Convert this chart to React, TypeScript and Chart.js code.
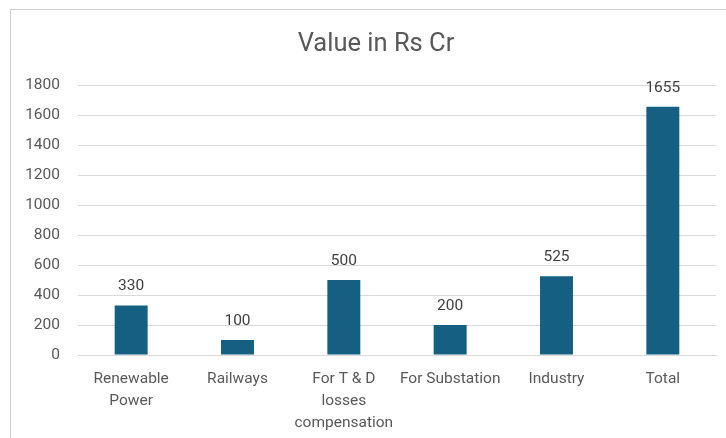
import React, { useEffect, useRef } from "react";
import { Chart, registerables } from "chart.js";

Chart.register(...registerables);

const categories: (string | string[])[] = [
  ["Renewable", "Power"],
  "Railways",
  ["For T & D", "losses", "compensation"],
  "For Substation",
  "Industry",
  "Total",
];
const values: number[] = [330, 100, 500, 200, 525, 1655];
const yTicks: number[] = [0, 200, 400, 600, 800, 1000, 1200, 1400, 1600, 1800];
const chartTitle = "Value in Rs Cr";

const FONT = "Roboto, 'Open Sans', sans-serif";

const dataLabelPlugin = {
  id: "dataLabels",
  afterDatasetsDraw(chart: any) {
    const ctx = chart.ctx;
    const meta = chart.getDatasetMeta(0);
    ctx.save();
    ctx.font = `15.5px ${FONT}`;
    ctx.fillStyle = "#404040";
    ctx.textAlign = "center";
    ctx.textBaseline = "middle";
    meta.data.forEach((bar: any, i: number) => {
      ctx.fillText(String(values[i]), bar.x, bar.y - 19);
    });
    ctx.restore();
  },
};

const titlePlugin = {
  id: "offsetTitle",
  afterDraw(chart: any) {
    const ctx = chart.ctx;
    ctx.save();
    ctx.font = `25.5px ${FONT}`;
    ctx.fillStyle = "#595959";
    ctx.textAlign = "center";
    ctx.textBaseline = "middle";
    const area = chart.chartArea;
    ctx.fillText(chartTitle, (area.left + area.right) / 2 - 21, area.top - 40);
    ctx.restore();
  },
};

export default function App() {
  const ref = useRef<HTMLCanvasElement | null>(null);
  useEffect(() => {
    if (!ref.current) return;
    const chart = new Chart(ref.current, {
      type: "bar",
      data: {
        labels: categories,
        datasets: [
          {
            data: values,
            backgroundColor: "#156082",
            barPercentage: 0.31,
            categoryPercentage: 1,
          },
        ],
      },
      options: {
        responsive: false,
        animation: false,
        layout: { padding: { left: 0, right: 33, top: 75, bottom: 0 } },
        plugins: {
          legend: { display: false },
          tooltip: { enabled: false },
          title: { display: false },
        },
        scales: {
          x: {
            grid: { display: false, drawTicks: false },
            border: { display: true, color: "#d9d9d9", width: 1 },
            ticks: {
              color: "#595959",
              font: { family: FONT, size: 15.5, lineHeight: 1.42 },
              padding: 13,
              maxRotation: 0,
              autoSkip: false,
            },
            afterFit: (s: any) => {
              s.height = 83;
            },
          },
          y: {
            min: 0,
            max: 1800,
            afterBuildTicks: (s: any) => {
              s.ticks = yTicks.map((v) => ({ value: v }));
            },
            grid: { color: "#d9d9d9", lineWidth: 1, drawTicks: false },
            border: { display: false },
            ticks: {
              color: "#595959",
              font: { family: FONT, size: 15.5 },
              padding: 18,
              callback: (v: any) => String(v),
            },
            afterFit: (s: any) => {
              s.width = 67;
            },
          },
        },
      },
      plugins: [dataLabelPlugin, titlePlugin],
    });
    return () => chart.destroy();
  }, []);

  return (
    <div
      style={{
        position: "fixed",
        left: 0,
        top: 0,
        width: 726,
        height: 438,
        overflow: "hidden",
        background: "#ffffff",
      }}
    >
      <div
        style={{
          position: "absolute",
          left: 0,
          top: -15,
          font: "bold 16px 'DejaVu Serif', serif",
          color: "#000",
        }}
      >
        ocess.
      </div>
      <div
        style={{
          position: "absolute",
          left: 10,
          top: 9,
          width: 740,
          height: 440,
          border: "1px solid #d0d0d0",
          background: "#ffffff",
        }}
      >
        <canvas ref={ref} width={738} height={428} style={{ display: "block" }} />
      </div>
    </div>
  );
}
